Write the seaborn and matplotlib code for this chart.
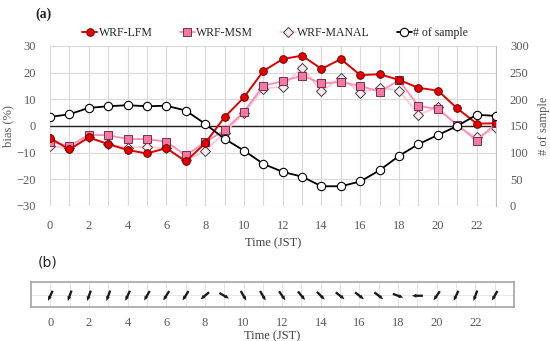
import numpy as np
import pandas as pd
import matplotlib
matplotlib.use("Agg")
import matplotlib.pyplot as plt
import seaborn as sns

hours = list(range(24))
lfm = [-4.5, -8.8, -4.3, -6.8, -9.0, -10.3, -8.3, -13.3, -6.5, 3.3, 10.7, 20.6,
       25.1, 26.4, 21.4, 25.1, 19.1, 19.4, 17.3, 14.3, 13.3, 6.6, 0.9, 1.0]
msm = [-5.9, -7.4, -3.4, -3.4, -4.9, -4.9, -5.9, -11.0, -6.1, -1.6, 5.3, 15.1,
       16.8, 18.9, 16.0, 16.5, 15.0, 12.9, 17.1, 7.5, 6.3, 0.5, -5.5, 1.0]
manal = [-7.5, -8.4, -4.3, -6.8, -8.1, -7.8, -8.4, -12.9, -9.4, -2.5, 4.8, 14.0,
         14.8, 21.9, 13.1, 18.1, 12.5, 14.4, 13.3, 4.3, 7.0, 0.0, -4.3, -0.8]
samples = [167, 172, 184, 187, 189, 187, 188, 179, 154, 126, 104, 79,
           64, 55, 37, 37, 46, 67, 94, 116, 133, 150, 171, 169]
# wind direction of arrow (degrees, counter-clockwise from east)
wind_dir = [245, 250, 250, 250, 245, 240, 238, 238, 220, -30, -60, -60,
            -55, -50, -45, -38, -38, -38, -20, 180, 235, 245, 250, 240]
xtick_labels = [str(h) if h % 2 == 0 else "" for h in hours]

df = pd.DataFrame({"hour": hours, "lfm": lfm, "msm": msm, "manal": manal,
                   "samples": samples, "wdir": wind_dir})

sns.set_style("white")
plt.rcParams["font.family"] = ["Liberation Serif", "DejaVu Serif"]

fig = plt.figure(figsize=(5.5, 3.41), dpi=100)
ax = fig.add_axes([50/550, 1-206/341, 446/550, 160/341])
ax2 = ax.twinx()

tick_col = "#595959"
grid_col = "#d9d9d9"
fs = 9

sns.lineplot(data=df, x="hour", y="lfm", ax=ax, color="#e00000", lw=1.4,
             marker="o", markersize=5.5, markerfacecolor="#e80000",
             markeredgecolor="#700000", markeredgewidth=0.7, label="WRF-LFM", zorder=5)
sns.lineplot(data=df, x="hour", y="msm", ax=ax, color="#ff8cb0", lw=1.3,
             marker="s", markersize=5.5, markerfacecolor="#f27aa2",
             markeredgecolor="#7a2e4a", markeredgewidth=0.7, label="WRF-MSM", zorder=4)
sns.lineplot(data=df, x="hour", y="manal", ax=ax, color="#ffc6d4", lw=1.3,
             marker="D", markersize=5, markerfacecolor="#fdeaf1",
             markeredgecolor="#404040", markeredgewidth=0.7, label="WRF-MANAL", zorder=3)
sns.lineplot(data=df, x="hour", y="samples", ax=ax2, color="black", lw=1.3,
             marker="o", markersize=6, markerfacecolor="white",
             markeredgecolor="black", markeredgewidth=0.8, label="# of sample", zorder=6)

ax.set_xlim(0, 23)
ax.set_ylim(-30, 30)
ax.set_yticks(range(-30, 31, 10))
ax2.set_ylim(0, 300)
ax2.set_yticks(range(0, 301, 50))
ax.set_xticks(hours)
ax.set_xticklabels(xtick_labels)
ax.grid(True, color=grid_col, lw=0.8)
ax.set_axisbelow(True)
ax.axhline(0, color="#202020", lw=1.0, zorder=2)
for a in (ax, ax2):
    for s in a.spines.values():
        s.set_visible(False)
    a.tick_params(length=0, labelsize=fs, colors=tick_col, pad=10)
ax2.spines["right"].set_visible(True)
ax2.spines["right"].set_color("#bfbfbf")
ax.set_xlabel("Time (JST)", fontsize=fs, color="#404040", labelpad=4)
ax.set_ylabel("bias (%)", fontsize=fs, color=tick_col)
ax2.set_ylabel("# of sample", fontsize=fs, color=tick_col)
ax.yaxis.set_label_coords((14 - 50) / 446, 0.5)
ax2.yaxis.set_label_coords((538 - 50) / 446, 0.5)

h1, l1 = ax.get_legend_handles_labels()
h2, l2 = ax2.get_legend_handles_labels()
ax.get_legend().remove()
ax2.get_legend().remove()
fig.legend(h1 + h2, l1 + l2, loc="center", bbox_to_anchor=(0.5, 1-33/341), ncol=4,
           frameon=False, fontsize=8.5, handlelength=1.3, handletextpad=0.1,
           columnspacing=2.3)

fig.text(35/550, 1-14/341, "(a)", fontsize=10, fontweight="bold", va="center")
fig.text(38/550, 1-262/341, "(b)", fontsize=10, va="center",
         family=["DejaVu Sans"])

# panel b: wind arrows
bx = fig.add_axes([31/550, 1-307/341, 483/550, 25/341])
bx.set_xlim(-1, 24)
bx.set_ylim(-1, 1)
bx.set_xticks(hours)
bx.set_xticklabels(xtick_labels)
bx.set_yticks([0])
bx.set_yticklabels([])
bx.grid(True, color="#e6e6e6", lw=0.7)
bx.set_axisbelow(True)
rad = np.deg2rad(df["wdir"].to_numpy())
bx.quiver(df["hour"], np.full(len(df), -0.1), np.cos(rad), np.sin(rad),
          angles="uv", pivot="middle", scale_units="inches", scale=1/0.11,
          width=0.0048, headwidth=1.8, headlength=2.0, headaxislength=1.8,
          color="#1a1a1a", zorder=3)
for s in bx.spines.values():
    s.set_color("#a6a6a6")
    s.set_linewidth(1.2)
bx.tick_params(length=0, labelsize=fs, colors=tick_col, pad=7)
bx.set_xlabel("Time (JST)", fontsize=fs, color="#404040", labelpad=1)

fig.savefig("out.png", dpi=100)
